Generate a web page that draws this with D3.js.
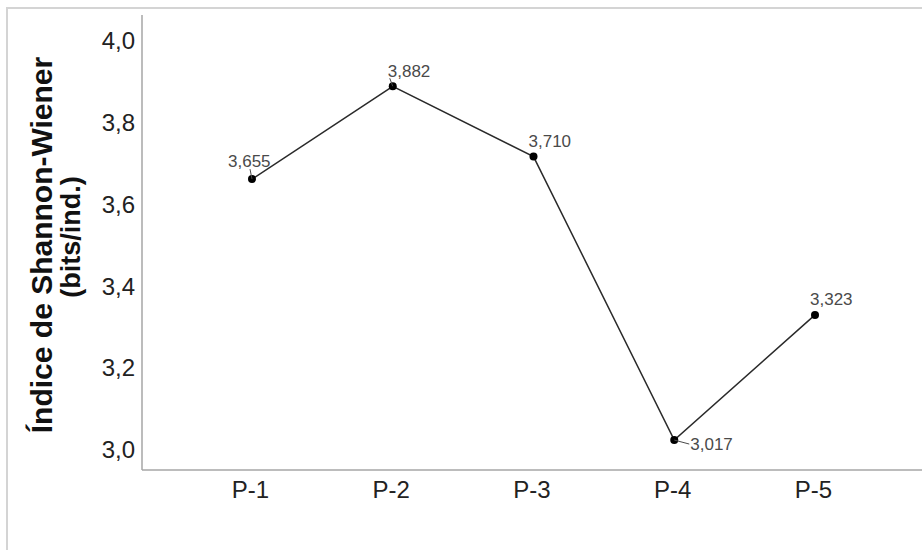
<!DOCTYPE html>
<html>
<head>
<meta charset="utf-8">
<script src="https://cdn.jsdelivr.net/npm/d3@7"></script>
<style>
  html, body { margin: 0; padding: 0; background: #fff; }
  svg { display: block; font-family: Arial, "Liberation Sans", sans-serif; }
</style>
</head>
<body>
<svg id="chart" width="922" height="550"></svg>
<script>
// ---- data ----
const categories = ["P-1", "P-2", "P-3", "P-4", "P-5"];
const values = [3.655, 3.882, 3.710, 3.017, 3.323];
const valueLabels = ["3,655", "3,882", "3,710", "3,017", "3,323"];
const yTicks = [3.0, 3.2, 3.4, 3.6, 3.8, 4.0];
const yTitleLines = ["Índice de Shannon-Wiener", "(bits/ind.)"];

// ---- layout ----
const W = 922, H = 550;
const svg = d3.select("#chart");

// outer frame
svg.append("path")
  .attr("d", `M7,${H} L7,8 L${W},8`)
  .attr("fill", "none").attr("stroke", "#d4d4d4").attr("stroke-width", 2);

const x = d3.scalePoint().domain(categories).range([252, 815]);
const y = d3.scaleLinear().domain([3.0, 4.0]).range([447, 38]);
const axisTop = 15, axisBottom = 470, axisLeft = 142;

// axes lines
svg.append("line").attr("x1", axisLeft).attr("x2", axisLeft)
  .attr("y1", axisTop).attr("y2", axisBottom)
  .attr("stroke", "#a6a6a6").attr("stroke-width", 1.5);
svg.append("line").attr("x1", axisLeft).attr("x2", W)
  .attr("y1", axisBottom).attr("y2", axisBottom)
  .attr("stroke", "#a6a6a6").attr("stroke-width", 1.5);

// y axis tick labels
const yAxis = d3.axisLeft(y).tickValues(yTicks).tickSize(0).tickPadding(0)
  .tickFormat(d => d3.format(".1f")(d).replace(".", ","));
const gy = svg.append("g").attr("transform", `translate(${axisLeft - 7},3)`).call(yAxis);
gy.select(".domain").remove();
gy.selectAll("text").attr("font-size", 24).attr("fill", "#222")
  .attr("font-family", "Arial, 'Liberation Sans', sans-serif");

// x axis tick labels
const xAxis = d3.axisBottom(x).tickSize(0).tickPadding(0);
const gx = svg.append("g").attr("transform", `translate(-2,${axisBottom + 11})`).call(xAxis);
gx.select(".domain").remove();
gx.selectAll("text").attr("font-size", 24).attr("fill", "#222")
  .attr("font-family", "Arial, 'Liberation Sans', sans-serif");

// y title
const titleX = [52, 80], titleY = [245, 237], titleSize = [30, 27];
yTitleLines.forEach((t, i) => {
  svg.append("text")
    .attr("transform", `translate(${titleX[i]},${titleY[i]}) rotate(-90)`)
    .attr("text-anchor", "middle")
    .attr("font-size", titleSize[i]).attr("font-weight", "bold").attr("fill", "#111")
    .text(t);
});

// line
const pts = categories.map((c, i) => ({ c, v: values[i], lab: valueLabels[i] }));
svg.append("path").datum(pts)
  .attr("d", d3.line().x(d => x(d.c)).y(d => y(d.v)))
  .attr("fill", "none").attr("stroke", "#2a2a2a").attr("stroke-width", 1.5);

// points
svg.selectAll("circle.pt").data(pts).enter().append("circle")
  .attr("class", "pt")
  .attr("cx", d => x(d.c)).attr("cy", d => y(d.v)).attr("r", 4)
  .attr("fill", "#000");

// value labels (placement relative to the point: dx, baseline dy) and leader ends
const labelPlacement = [[-24, -12], [-5, -9], [-5, -10], [16, 10], [-5, -10]];
const leaderEnd = [[-2, -10], [-3, -8], null, [15, 4], null];
pts.forEach((d, i) => {
  const px = x(d.c), py = y(d.v);
  const [dx, dy] = labelPlacement[i];
  svg.append("text")
    .attr("x", px + dx).attr("y", py + dy)
    .attr("font-size", 17).attr("fill", "#4a4a4a")
    .text(d.lab);
  if (leaderEnd[i]) {
    svg.append("line").attr("x1", px).attr("y1", py)
      .attr("x2", px + leaderEnd[i][0]).attr("y2", py + leaderEnd[i][1])
      .attr("stroke", "#4a4a4a").attr("stroke-width", 1);
  }
});
</script>
</body>
</html>
